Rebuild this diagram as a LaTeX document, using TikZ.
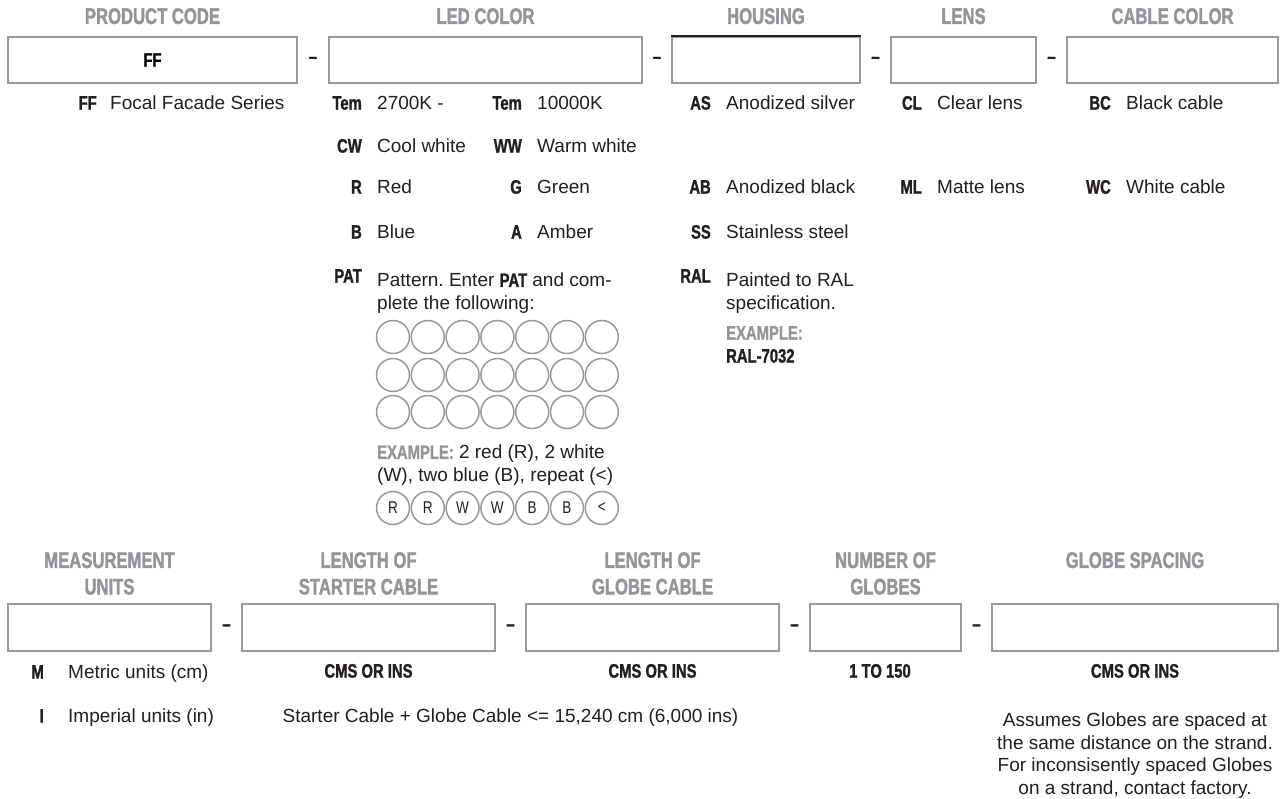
\documentclass[tikz,border=0pt]{standalone}
\usepackage{fontspec}
\usetikzlibrary{calc}
\setmainfont{Liberation Sans}
\newfontfamily\condfont{Liberation Sans}[FakeStretch=0.76,FakeBold=1.2]
\newfontfamily\condlight{Liberation Sans}[FakeStretch=0.80]
\newfontfamily\headfont{Liberation Sans}[FakeStretch=0.74,FakeBold=1.6]
\definecolor{boxgray}{HTML}{98999B}
\definecolor{headgray}{HTML}{939598}
\definecolor{inkblack}{HTML}{231F20}
\newcommand{\bodyfont}{\fontsize{19}{23}\selectfont}
\newcommand{\codefont}{\condfont\bfseries\fontsize{19.5}{23}\selectfont}
\frenchspacing

\begin{document}
\begin{tikzpicture}[
	x=1pt,y=-1pt,
	field/.style={draw=boxgray,line width=2pt,inner sep=0pt,minimum height=46pt},
	head/.style={font=\headfont\bfseries\fontsize{22.5}{26.5}\selectfont,text=headgray,
		align=center,anchor=north,inner sep=0pt},
	code/.style={font=\codefont,text=inkblack,anchor=mid east,inner sep=0pt},
	desc/.style={font=\bodyfont,text=inkblack,anchor=mid west,inner sep=0pt},
	hyph/.style={font=\codefont,text=inkblack,inner sep=0pt},
	ring/.style={circle,draw=boxgray,line width=1.5pt,minimum size=33pt,inner sep=0pt,
		font=\condlight\fontsize{17}{17}\selectfont,text=inkblack}]
\useasboundingbox (0,0) rectangle (1280,798);
\fill[white] (0,0) rectangle (1280,798);

% first row of fields
\node[field,minimum width=289pt,font=\codefont] (pcode) at (152.5,60) {FF};
\node[field,minimum width=313pt] (ledcol) at (485.5,60) {};
\node[field,minimum width=188pt] (house) at (766,60) {};
\node[field,minimum width=145pt] (lens) at (963.5,60) {};
\node[field,minimum width=211pt] (cable) at (1172.5,60) {};
\draw[inkblack,line width=2pt] (house.north west) -- (house.north east);
\foreach \a/\b in {pcode/ledcol,ledcol/house,house/lens,lens/cable}
	\node[hyph] (sep-\a) at ($(\a.east)!.5!(\b.west)$) {\textendash};

\node[head] (hpcode) at (152.5,8) {PRODUCT CODE};
\node[head] (hledcol) at (485.5,8) {LED COLOR};
\node[head] (hhouse) at (766,8) {HOUSING};
\node[head] (hlens) at (963.5,8) {LENS};
\node[head] (hcable) at (1172.5,8) {CABLE COLOR};

% product code
\node[code] (ff) at (97,107) {FF};
\node[desc] (fftxt) at (110,107) {Focal Facade Series};

% led color
\foreach \cd/\ds/\yy [count=\n] in {Tem/2700K -/107,CW/Cool white/150,R/Red/191,B/Blue/236}{
	\node[code] (leda-\n) at (362,\yy) {\cd};
	\node[desc] (ledatxt-\n) at (377,\yy) {\ds};
}
\foreach \cd/\ds/\yy [count=\n] in {Tem/10000K/107,WW/Warm white/150,G/Green/191,A/Amber/236}{
	\node[code] (ledb-\n) at (522,\yy) {\cd};
	\node[desc] (ledbtxt-\n) at (537,\yy) {\ds};
}
\node[code] (pat) at (362,280) {PAT};
\node[desc,anchor=north west,align=left] (pattxt) at (377,273)
	{Pattern. Enter {\codefont PAT} and com-\\plete the following:};
\foreach \r/\yy in {1/337,2/375,3/412}
	\foreach \c in {0,...,6}
		\node[ring] (slot-\r-\c) at (393+34.8*\c,\yy) {};
\node[desc,anchor=north west,align=left] (patex) at (377,445)
	{{\codefont\color{headgray}EXAMPLE:} 2 red (R), 2 white\\(W), two blue (B), repeat (<)};
\foreach \t [count=\c from 0] in {R,R,W,W,B,B,<}
	\node[ring] (ex-\c) at (393+34.8*\c,508) {\t};

% housing
\foreach \cd/\ds/\yy [count=\n] in {AS/Anodized silver/107,AB/Anodized black/191,SS/Stainless steel/236}{
	\node[code] (hs-\n) at (711,\yy) {\cd};
	\node[desc] (hstxt-\n) at (726,\yy) {\ds};
}
\node[code] (ral) at (711,280) {RAL};
\node[desc,anchor=north west,align=left] (raltxt) at (726,273) {Painted to RAL\\specification.};
\node[desc,font=\codefont,text=headgray] (ralex) at (726,337) {EXAMPLE:};
\node[desc,font=\codefont] (ralcode) at (726,360) {RAL-7032};

% lens and cable
\foreach \cd/\ds/\yy [count=\n] in {CL/Clear lens/107,ML/Matte lens/191}{
	\node[code] (ln-\n) at (922,\yy) {\cd};
	\node[desc] (lntxt-\n) at (937,\yy) {\ds};
}
\foreach \cd/\ds/\yy [count=\n] in {BC/Black cable/107,WC/White cable/191}{
	\node[code] (cb-\n) at (1111,\yy) {\cd};
	\node[desc] (cbtxt-\n) at (1126,\yy) {\ds};
}

% second row of fields
\node[field,minimum width=203pt,minimum height=47pt] (units) at (109.5,627.5) {};
\node[field,minimum width=253pt,minimum height=47pt] (starter) at (368.5,627.5) {};
\node[field,minimum width=253pt,minimum height=47pt] (globecab) at (652.5,627.5) {};
\node[field,minimum width=151pt,minimum height=47pt] (count) at (885.5,627.5) {};
\node[field,minimum width=286pt,minimum height=47pt] (spacing) at (1135,627.5) {};
\foreach \a/\b in {units/starter,starter/globecab,globecab/count,count/spacing}
	\node[hyph] (sep-\a) at ($(\a.east)!.5!(\b.west)$) {\textendash};

\node[head] (hunits) at (109.5,552) {MEASUREMENT\\UNITS};
\node[head] (hstarter) at (368.5,552) {LENGTH OF\\STARTER CABLE};
\node[head] (hglobecab) at (652.5,552) {LENGTH OF\\GLOBE CABLE};
\node[head] (hcount) at (885.5,552) {NUMBER OF\\GLOBES};
\node[head] (hspacing) at (1135,552) {GLOBE SPACING};

\node[code] (m) at (44,676) {M};
\node[desc] (mtxt) at (68,676) {Metric units (cm)};
\node[code] (i) at (44,720) {I};
\node[desc] (itxt) at (68,720) {Imperial units (in)};
\node[code,anchor=mid] (stunit) at (368.5,675) {CMS OR INS};
\node[code,anchor=mid] (gcunit) at (652.5,675) {CMS OR INS};
\node[code,anchor=mid] (cntrange) at (880,675) {1 TO 150};
\node[code,anchor=mid] (spunit) at (1135,675) {CMS OR INS};
\node[desc,anchor=mid] (sumnote) at (510.5,720) {Starter Cable + Globe Cable <= 15,240 cm (6,000 ins)};
\node[desc,anchor=north,align=center,font=\fontsize{19}{22.5}\selectfont] (spnote) at (1135,713)
	{Assumes Globes are spaced at\\the same distance on the strand.\\For inconsisently spaced Globes\\on a strand, contact factory.};
\end{tikzpicture}
\end{document}
